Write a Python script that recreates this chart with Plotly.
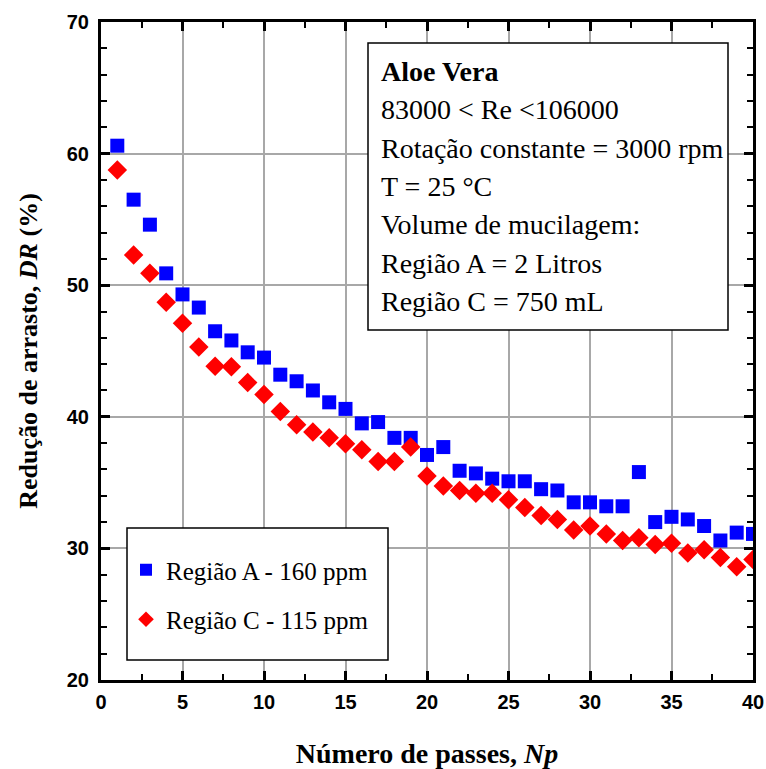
import plotly.graph_objects as go

np_passes = list(range(1, 41))
dr_regiao_a = [60.6, 56.5, 54.6, 50.9, 49.3, 48.3, 46.5, 45.8, 44.9, 44.5,
               43.2, 42.7, 42.0, 41.1, 40.6, 39.5, 39.6, 38.4, 38.4, 37.1,
               37.7, 35.9, 35.7, 35.3, 35.1, 35.1, 34.5, 34.4, 33.5, 33.5,
               33.2, 33.2, 35.8, 32.0, 32.4, 32.2, 31.7, 30.6, 31.2, 31.1]
dr_regiao_c = [58.75, 52.3, 50.9, 48.7, 47.1, 45.3, 43.85, 43.8, 42.6, 41.7,
               40.4, 39.4, 38.85, 38.4, 37.95, 37.5, 36.6, 36.6, 37.7, 35.5,
               34.75, 34.4, 34.2, 34.2, 33.7, 33.1, 32.5, 32.2, 31.4, 31.7,
               31.1, 30.6, 30.8, 30.3, 30.4, 29.65, 29.9, 29.3, 28.6, 29.15]
x_ticks = [0, 5, 10, 15, 20, 25, 30, 35, 40]
y_ticks = [20, 30, 40, 50, 60, 70]
info_lines = ["<b>Aloe Vera</b>", "83000 &lt; Re &lt;106000",
              "Rotação constante = 3000 rpm", "T = 25 °C",
              "Volume de mucilagem:", "Região A = 2 Litros", "Região C = 750 mL"]

serif = "Liberation Serif"
sans = "Liberation Sans"

W, H = 766, 769
ML, MR, MT, MB = 101, 13, 22, 89
PW, PH = W - ML - MR, H - MT - MB


def px(xp):
    return (xp - ML) / PW


def py(yp):
    return (H - MB - yp) / PH


fig = go.Figure()
fig.add_trace(go.Scatter(x=np_passes, y=dr_regiao_a, mode="markers",
                         name="Região A - 160 ppm", legendgroup="a",
                         marker=dict(symbol="square", size=14, color="#0000ff",
                                     line=dict(width=0))))
fig.add_trace(go.Scatter(x=np_passes, y=dr_regiao_c, mode="markers",
                         name="Região C - 115 ppm", legendgroup="c",
                         marker=dict(symbol="diamond", size=15, color="#ff0000",
                                     line=dict(width=0))))

axis_common = dict(showline=True, linecolor="black", linewidth=3, mirror="ticks",
                   ticks="inside", ticklen=9, tickwidth=2.5, tickcolor="black",
                   showgrid=True, gridcolor="#a8a8a8", gridwidth=1.5, zeroline=False,
                   automargin=False,
                   tickfont=dict(family=sans, size=20, color="black", weight="bold"))

fig.update_xaxes(range=[0, 40], tickvals=x_ticks, ticktext=[str(v) for v in x_ticks],
                 minor=dict(dtick=2.5, ticks="inside", ticklen=6, tickwidth=2, tickcolor="black", showgrid=False),
                 title=dict(text="<b>Número de passes, <i>Np</i></b>",
                            font=dict(family=serif, size=28, color="black")),
                 ticklabelstandoff=2,
                 **axis_common)
fig.update_yaxes(range=[20, 70], tickvals=y_ticks, ticktext=[str(v) for v in y_ticks],
                 minor=dict(dtick=2, ticks="inside", ticklen=6, tickwidth=2, tickcolor="black", showgrid=False),
                 title=dict(text="<b>Redução de arrasto, <i>DR</i> (%)</b>",
                            font=dict(family=serif, size=26, color="black")),
                 ticklabelstandoff=5,
                 **axis_common)

# info box
fig.add_shape(type="rect", xref="paper", yref="paper",
              x0=px(368), x1=px(728), y0=py(330), y1=py(43),
              line=dict(color="black", width=1.5), fillcolor="white", layer="above")
for i, line in enumerate(info_lines):
    fig.add_annotation(xref="paper", yref="paper", x=px(379), y=py(71 + 38.5 * i),
                       xanchor="left", yanchor="middle", text=line, showarrow=False,
                       font=dict(family=serif, size=28, color="black"))

# legend box
fig.add_shape(type="rect", xref="paper", yref="paper",
              x0=px(127), x1=px(388), y0=py(660), y1=py(528),
              line=dict(color="black", width=1.5), fillcolor="white", layer="above")

fig.update_layout(
    template="none",
    width=W, height=H,
    margin=dict(l=ML, r=MR, t=MT, b=MB),
    plot_bgcolor="white", paper_bgcolor="white",
    showlegend=True,
    legend=dict(x=px(126), y=py(547), xanchor="left", yanchor="top",
                borderwidth=0, bgcolor="rgba(0,0,0,0)",
                font=dict(family=serif, size=25, color="black"),
                itemsizing="constant", tracegroupgap=14,
                traceorder="grouped"),
)

fig.write_html("out.html")
